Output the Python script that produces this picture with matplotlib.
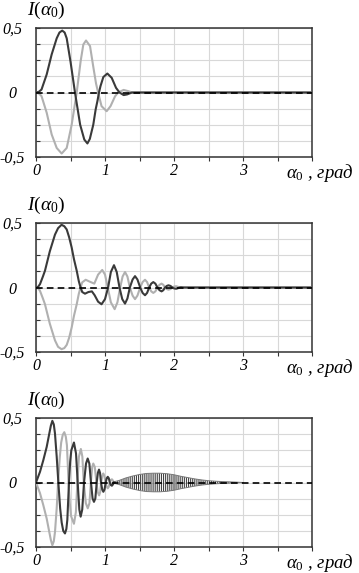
import numpy as np
import matplotlib
matplotlib.use("Agg")
from matplotlib import pyplot as plt

plt.rcParams['font.family'] = ['Liberation Serif', 'DejaVu Serif']
plt.rcParams['mathtext.fontset'] = 'custom'
plt.rcParams['mathtext.rm'] = 'Liberation Serif'
plt.rcParams['mathtext.it'] = 'Liberation Serif:italic'
plt.rcParams['hatch.linewidth'] = 0.8

# ===== DATA =====
# panel 1
p1_dark_x = [0, 0.04, 0.08, 0.155, 0.227, 0.3, 0.34, 0.38, 0.415, 0.445, 0.5, 0.565, 0.64, 0.7, 0.745,
             0.78, 0.83, 0.865, 0.89, 0.913, 0.935, 0.976, 1.034, 1.097, 1.16, 1.21, 1.27, 1.32, 1.39, 4.0]
p1_dark_y = [0, 0.005, 0.023, 0.14, 0.295, 0.42, 0.465, 0.48, 0.465, 0.42, 0.24, 0, -0.25, -0.365, -0.395,
             -0.36, -0.25, -0.13, -0.067, 0, 0.05, 0.12, 0.147, 0.114, 0.036, 0, -0.02, -0.015, 0, 0]
p1_light_x = [0, 0.04, 0.08, 0.155, 0.227, 0.3, 0.372, 0.445, 0.517, 0.59, 0.647, 0.686, 0.725, 0.783,
              0.83, 0.87, 0.9, 0.95, 1.024, 1.08, 1.145, 1.19, 1.27, 1.34, 1.39, 4.0]
p1_light_y = [0, -0.006, -0.028, -0.157, -0.325, -0.43, -0.473, -0.43, -0.25, 0, 0.243, 0.372, 0.403, 0.36,
              0.2, 0.07, 0, -0.106, -0.145, -0.106, -0.03, 0, 0.02, 0.01, 0, 0]

# panel 2
p2_dark_x = [0, 0.03, 0.058, 0.1, 0.13, 0.2, 0.275, 0.32, 0.37, 0.41, 0.445, 0.48, 0.517, 0.55, 0.59, 0.62,
             0.64, 0.67, 0.71, 0.76, 0.81, 0.85, 0.9, 0.95, 1.0, 1.045, 1.085, 1.13, 1.17, 1.21, 1.25, 1.29,
             1.325, 1.36, 1.40, 1.435, 1.47, 1.51, 1.545, 1.58, 1.61, 1.64, 1.67, 1.70, 1.73, 1.76, 1.79,
             1.82, 1.845, 1.87, 1.895, 1.92, 1.95, 1.975, 2.0, 2.03, 2.055, 2.08, 2.1, 2.14, 4.0]
p2_dark_y = [0, 0.005, 0.026, 0.085, 0.13, 0.28, 0.41, 0.46, 0.486, 0.475, 0.45, 0.39, 0.31, 0.22, 0.13, 0.05,
             0.01, -0.035, -0.048, -0.035, -0.03, -0.06, -0.11, -0.13, -0.09, 0, 0.12, 0.173, 0.12, 0, -0.09,
             -0.125, -0.085, 0, 0.062, 0.088, 0.062, 0, -0.042, -0.06, -0.042, 0, 0.03, 0.042, 0.03, 0,
             -0.021, -0.03, -0.021, 0, 0.012, 0.017, 0.012, 0, -0.007, -0.01, -0.006, 0, 0.002, 0, 0]
p2_light_x = [0, 0.03, 0.058, 0.1, 0.13, 0.2, 0.275, 0.32, 0.37, 0.41, 0.445, 0.48, 0.517, 0.55, 0.59, 0.62,
              0.64, 0.67, 0.72, 0.78, 0.845, 0.9, 0.96, 1.0, 1.04, 1.085, 1.14, 1.18, 1.22, 1.255, 1.29,
              1.325, 1.36, 1.40, 1.435, 1.47, 1.51, 1.545, 1.58, 1.61, 1.64, 1.67, 1.70, 1.73, 1.76, 1.79,
              1.82, 1.845, 1.87, 1.895, 1.92, 1.95, 1.975, 2.0, 2.03, 2.055, 2.08, 2.1, 2.14, 4.0]
p2_light_y = [0, -0.005, -0.026, -0.085, -0.13, -0.28, -0.41, -0.46, -0.478, -0.47, -0.445, -0.39, -0.31,
              -0.22, -0.13, -0.05, -0.01, 0.04, 0.06, 0.045, 0.03, 0.1, 0.136, 0.1, 0, -0.115, -0.168,
              -0.115, 0, 0.085, 0.12, 0.085, 0, -0.063, -0.09, -0.063, 0, 0.042, 0.06, 0.042, 0, -0.03,
              -0.042, -0.03, 0, 0.021, 0.03, 0.021, 0, -0.012, -0.017, -0.012, 0, 0.007, 0.01, 0.006, 0,
              -0.002, 0, 0]

# panel 3
p3_dark_x = [0, 0.058, 0.106, 0.155, 0.193, 0.215, 0.237, 0.258, 0.275, 0.3, 0.324, 0.35, 0.372, 0.395, 0.42,
             0.44, 0.454, 0.478, 0.495, 0.512, 0.55, 0.58, 0.604, 0.628, 0.647, 0.67, 0.696, 0.725, 0.749,
             0.773, 0.797, 0.82, 0.84, 0.86, 0.88, 0.897, 0.913, 0.928, 0.942, 0.96, 0.976, 0.993, 1.01,
             1.025, 1.04, 1.055, 1.07, 1.085, 1.1, 1.115, 1.13]
p3_dark_y = [0, 0.083, 0.173, 0.276, 0.38, 0.44, 0.478, 0.45, 0.38, 0.2, 0, -0.2, -0.31, -0.375, -0.395,
             -0.36, -0.29, 0, 0.16, 0.25, 0.31, 0.225, 0, -0.21, -0.265, -0.21, 0, 0.147, 0.186, 0.147, 0,
             -0.124, -0.15, -0.124, 0, 0.075, 0.10, 0.075, 0, -0.055, -0.072, -0.055, 0, 0.033, 0.044,
             0.033, 0, -0.02, -0.025, -0.015, 0]
p3_light_x = [0, 0.058, 0.106, 0.155, 0.193, 0.215, 0.237, 0.258, 0.275, 0.3, 0.32, 0.345, 0.365, 0.388,
              0.41, 0.432, 0.448, 0.472, 0.49, 0.508, 0.55, 0.578, 0.6, 0.622, 0.65, 0.672, 0.692, 0.722,
              0.75, 0.775, 0.795, 0.815, 0.83, 0.852, 0.876, 0.895, 0.915, 0.93, 0.945, 0.96, 0.975, 0.99,
              1.008, 1.025, 1.04, 1.055, 1.07, 1.085, 1.1, 1.115, 1.13]
p3_light_y = [0, -0.083, -0.176, -0.28, -0.385, -0.445, -0.486, -0.455, -0.385, -0.2, 0, 0.2, 0.31, 0.37,
              0.39, 0.355, 0.29, 0, -0.16, -0.26, -0.32, -0.23, 0, 0.2, 0.26, 0.2, 0, -0.16, -0.2, -0.16, 0,
              0.12, 0.147, 0.12, 0, -0.075, -0.10, -0.075, 0, 0.052, 0.07, 0.052, 0, -0.033, -0.045,
              -0.033, 0, 0.02, 0.025, 0.015, 0]
# envelope of the fast oscillation band in panel 3
band_x = [1.12, 1.2, 1.3, 1.4, 1.5, 1.6, 1.7, 1.8, 1.9, 2.0, 2.1, 2.2, 2.3, 2.4, 2.5, 2.6, 2.7, 2.8, 2.9, 3.0]
band_amp = [0.005, 0.015, 0.035, 0.05, 0.062, 0.07, 0.072, 0.072, 0.068, 0.06, 0.048, 0.038, 0.028, 0.02,
            0.014, 0.01, 0.007, 0.005, 0.003, 0.0]

panels = [
    [(p1_dark_x, p1_dark_y), (p1_light_x, p1_light_y)],
    [(p2_dark_x, p2_dark_y), (p2_light_x, p2_light_y)],
    [(p3_dark_x, p3_dark_y), (p3_light_x, p3_light_y)],
]

x_ticks = [0, 0.5, 1, 1.5, 2, 2.5, 3, 3.5, 4]
x_ticklabels = ["0", "", "1", "", "2", "", "3", "", ""]
y_ticks = [-0.5, -0.375, -0.25, -0.125, 0, 0.125, 0.25, 0.375, 0.5]
y_ticklabels = ["-0,5", "", "", "", "0", "", "", "", "0,5"]

DARK = "#3a3a3a"
LIGHT = "#b0b0b0"

fig = plt.figure(figsize=(3.59, 5.73), dpi=100)
bottoms = [1 - 157 / 573, 1 - 352 / 573, 1 - 547 / 573]

for k, (curves, b) in enumerate(zip(panels, bottoms)):
    ax = fig.add_axes([36 / 359, b, 276 / 359, 129 / 573])
    (dx, dy), (lx, ly) = curves
    ax.plot(lx, ly, color=LIGHT, lw=1.5, zorder=3)
    ax.plot(dx, dy, color=DARK, lw=1.5, zorder=4)
    if k == 2:
        ax.fill_between(band_x, [-a for a in band_amp], band_amp, facecolor="none",
                        edgecolor="#444444", hatch="||||||||", lw=0, zorder=3)
        ax.plot(band_x, band_amp, color="#777777", lw=0.7, zorder=3)
        ax.plot(band_x, [-a for a in band_amp], color="#777777", lw=0.7, zorder=3)
    ax.axhline(0, color="black", lw=1.2, ls=(0, (4, 2.5)), zorder=5)

    ax.set_xlim(0, 4)
    ax.set_ylim(-0.5, 0.5)
    ax.set_xticks(x_ticks)
    ax.set_xticklabels(x_ticklabels, fontstyle="italic", fontsize=11.5)
    ax.set_yticks(y_ticks)
    ax.set_yticklabels(y_ticklabels, fontstyle="italic", fontsize=11.5, ha="center")
    ax.tick_params(axis="x", direction="out", length=3, width=0.8, pad=1.5, color="#333333")
    ax.tick_params(axis="y", direction="in", length=3, width=0.8, pad=17, color="#333333")
    ax.grid(True, color="#d8d8d8", lw=0.8, zorder=0)
    ax.set_axisbelow(True)
    for s in ax.spines.values():
        s.set_color("#333333")
        s.set_linewidth(1.1)

    ax.text(-0.033, 1.1, r"$\mathit{I}(\alpha_{\mathit{0}})$", transform=ax.transAxes,
            fontsize=14, ha="left", va="baseline")
    ax.text(0.906, -0.165, r"$\alpha_{\mathit{0}}$ , град", transform=ax.transAxes,
            fontsize=13.5, fontstyle="italic", ha="left", va="baseline")

plt.savefig("out.png", dpi=100)
